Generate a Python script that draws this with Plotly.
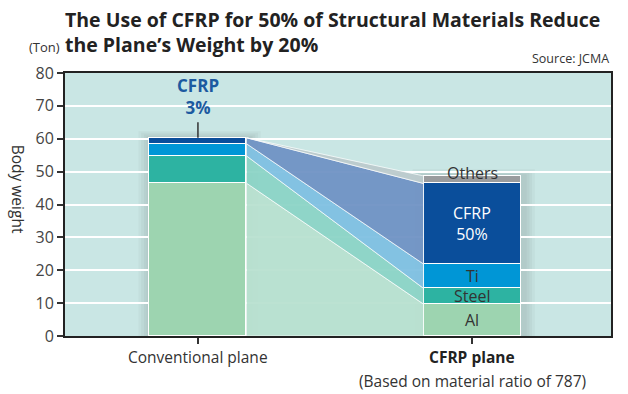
import plotly.graph_objects as go

categories = ["Conventional plane", "CFRP plane"]
subtitle_cfrp = "(Based on material ratio of 787)"
materials = ["Al", "Steel", "Ti", "CFRP", "Others"]
conventional = [46.5, 8.3, 3.7, 1.8, 0.0]
cfrp_plane = [9.7, 4.8, 7.4, 24.5, 2.3]
y_ticks = [0, 10, 20, 30, 40, 50, 60, 70, 80]

bar_colors = ["#9dd4b0", "#2db3a2", "#0096d6", "#0a4e9b", "#9a9c9e"]
band_colors = ["rgba(184,224,208,0.95)", "rgba(140,212,198,0.95)", "rgba(128,192,226,0.95)",
               "rgba(112,146,196,0.95)", "rgba(188,202,204,0.95)"]
label_colors = ["#333333", "#333333", "#333333", "#ffffff", "#333333"]

xpos = [1, 2]
width = 0.354

fig = go.Figure()

# connecting bands
cum1 = 0
cum2 = 0
for i, m in enumerate(materials):
    b1, t1 = cum1, cum1 + conventional[i]
    b2, t2 = cum2, cum2 + cfrp_plane[i]
    cum1, cum2 = t1, t2
    xa = xpos[0] + width / 2
    xb = xpos[1] - width / 2
    fig.add_trace(go.Scatter(
        x=[xa, xa, xb, xb, xa], y=[b1, t1, t2, b2, b1],
        fill="toself", fillcolor=band_colors[i], mode="lines",
        line=dict(color="rgba(255,255,255,0.7)", width=1),
        hoverinfo="skip", showlegend=False))

# soft shadow behind bars
for xc, tot in zip(xpos, [sum(conventional), sum(cfrp_plane)]):
    for k in range(4):
        pad = 0.01 * (k + 1)
        fig.add_shape(type="rect", x0=xc - width / 2 - pad, x1=xc + width / 2 + pad + 0.012,
                      y0=0, y1=tot + 0.5 * (k + 1), fillcolor="rgba(60,80,80,0.045)",
                      line=dict(width=0), layer="below")

for i, m in enumerate(materials):
    fig.add_trace(go.Bar(
        x=xpos, y=[conventional[i], cfrp_plane[i]], width=width,
        marker=dict(color=bar_colors[i], line=dict(color="white", width=1.5)),
        name=m, showlegend=False, hoverinfo="skip"))

# labels on CFRP plane bar
cum = 0
label_text = ["Al", "Steel", "Ti", "CFRP<br>50%", ""]
for i, m in enumerate(materials):
    mid = cum + cfrp_plane[i] / 2
    cum += cfrp_plane[i]
    if label_text[i]:
        fig.add_annotation(x=xpos[1], y=mid, text=label_text[i], showarrow=False,
                           font=dict(size=16, color=label_colors[i]))
fig.add_annotation(x=xpos[1], y=sum(cfrp_plane), text="Others", showarrow=False,
                   yanchor="middle", yshift=3,
                   font=dict(size=16, color="#333333"))

# CFRP 3% callout
fig.add_annotation(x=xpos[0], y=sum(conventional), ax=0, ay=-17, ayref="pixel",
                   text="", showarrow=True, arrowhead=0, arrowwidth=1.5, arrowcolor="#333333")
fig.add_annotation(x=xpos[0], y=sum(conventional), yshift=17, text="<b>CFRP<br>3%</b>",
                   showarrow=False, yanchor="bottom",
                   font=dict(size=17, color="#1c5aa0"))

# titles & texts
fig.add_annotation(xref="paper", yref="paper", x=0.0, y=1.0, xanchor="left", yanchor="bottom",
                   xshift=-2, yshift=13,
                   text="<b>The Use of CFRP for 50% of Structural Materials Reduce<br>the Plane’s Weight by 20%</b>",
                   align="left", showarrow=False, font=dict(size=19.5, color="#222222"))
fig.add_annotation(xref="paper", yref="paper", x=0, y=1, xanchor="right", yanchor="bottom",
                   xshift=-3, yshift=15, text="(Ton)", showarrow=False,
                   font=dict(size=13, color="#333333"))
fig.add_annotation(xref="paper", yref="paper", x=1, y=1, xanchor="right", yanchor="bottom",
                   yshift=4, text="Source: JCMA", showarrow=False,
                   font=dict(size=12.5, color="#333333"))
fig.add_annotation(xref="paper", yref="paper", x=0, y=0.56, xanchor="center", yanchor="middle",
                   xshift=-47, text="Body weight", textangle=90, showarrow=False,
                   font=dict(size=15.5, color="#333333"))
fig.add_annotation(xref="x", yref="paper", x=xpos[0], y=0, yanchor="middle", yshift=-21,
                   text=categories[0], showarrow=False, font=dict(size=15.5, color="#333333"))
fig.add_annotation(xref="x", yref="paper", x=xpos[1], y=0, yanchor="middle", yshift=-21,
                   text="<b>" + categories[1] + "</b>",
                   showarrow=False, font=dict(size=15.5, color="#222222"))
fig.add_annotation(xref="x", yref="paper", x=xpos[1], y=0, yanchor="middle", yshift=-45,
                   text=subtitle_cfrp,
                   showarrow=False, font=dict(size=15.5, color="#333333"))

fig.update_layout(
    width=628, height=394, barmode="stack", bargap=0,
    margin=dict(l=65, r=17, t=73, b=58),
    paper_bgcolor="white", plot_bgcolor="#c9e6e4",
    font=dict(family="Open Sans", color="#333333"),
    xaxis=dict(range=[0.515, 2.507], tickvals=xpos, ticktext=["", ""], ticks="outside",
               ticklen=6, tickcolor="#333333", tickwidth=1.5, showgrid=False, zeroline=False,
               showline=True, linecolor="#222222", linewidth=2, mirror=True),
    yaxis=dict(range=[0, 80], tickvals=y_ticks, ticks="outside", ticklen=6,
               tickcolor="#333333", tickwidth=1.5, gridcolor="white", gridwidth=1.5,
               zeroline=False, showline=True, linecolor="#222222", linewidth=2, mirror=True,
               tickfont=dict(size=16, color="#444444")),
)

fig.write_html("out.html", config={"displayModeBar": False},
               post_script="document.body.style.margin='0';document.body.style.padding='0';")
